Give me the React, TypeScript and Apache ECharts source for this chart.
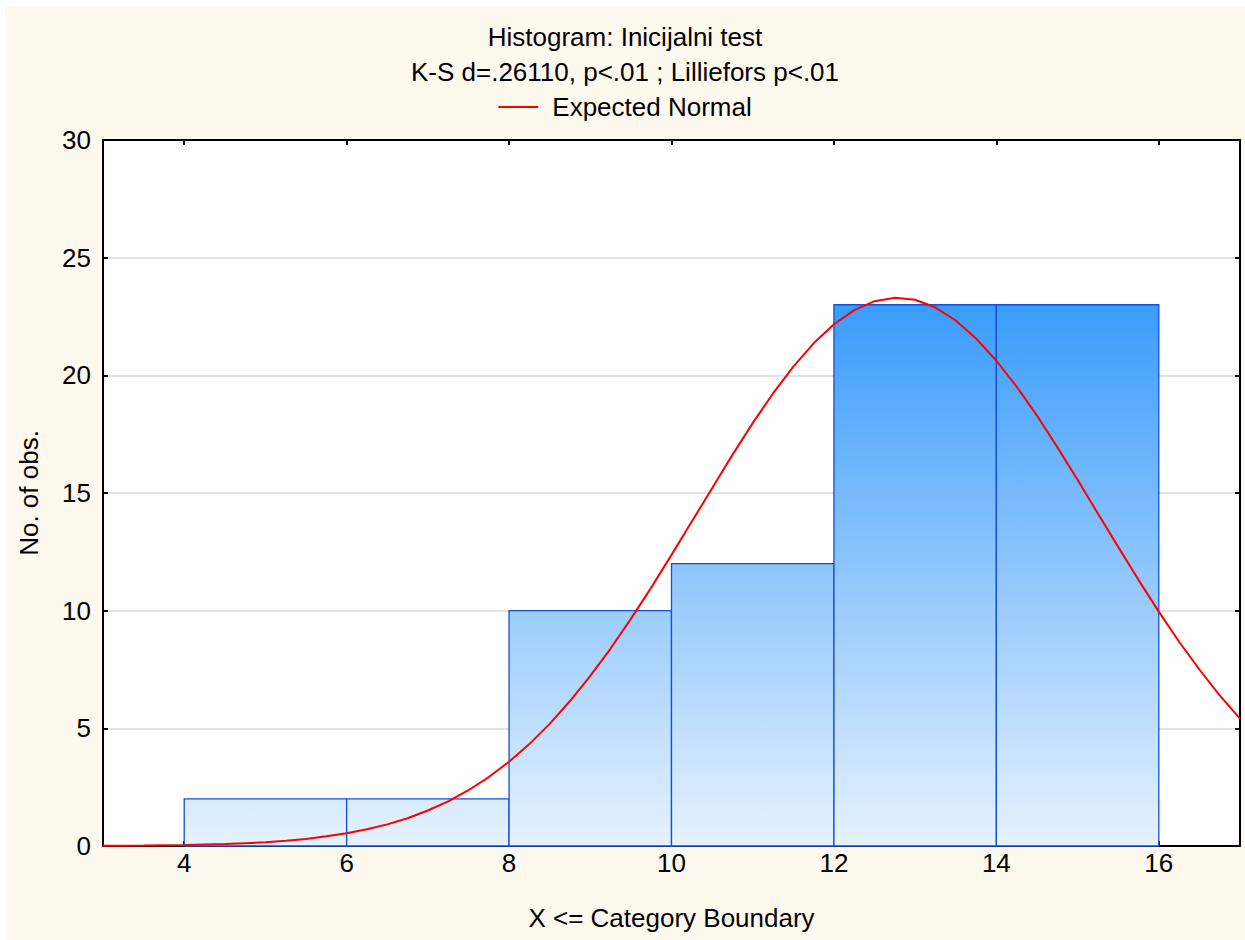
import React, { useEffect, useRef } from "react";
import * as echarts from "echarts";

const titleLines = ["Histogram: Inicijalni test", "K-S d=.26110, p<.01 ; Lilliefors p<.01"];
const legendLabel = "Expected Normal";
const xAxisTitle = "X <= Category Boundary";
const yAxisTitle = "No. of obs.";

// histogram bins: lower bound, upper bound, count
const binLower = [4, 6, 8, 10, 12, 14];
const binUpper = [6, 8, 10, 12, 14, 16];
const binCounts = [2, 2, 10, 12, 23, 23];

// expected normal curve
const curveX = [3, 3.25, 3.5, 3.75, 4, 4.25, 4.5, 4.75, 5, 5.25, 5.5, 5.75, 6, 6.25, 6.5, 6.75, 7, 7.25, 7.5, 7.75, 8, 8.25, 8.5, 8.75, 9, 9.25, 9.5, 9.75, 10, 10.25, 10.5, 10.75, 11, 11.25, 11.5, 11.75, 12, 12.25, 12.5, 12.75, 13, 13.25, 13.5, 13.75, 14, 14.25, 14.5, 14.75, 15, 15.25, 15.5, 15.75, 16, 16.25, 16.5, 16.75, 17];
const curveY = [0.01, 0.014, 0.02, 0.03, 0.04, 0.06, 0.08, 0.12, 0.16, 0.22, 0.3, 0.41, 0.54, 0.71, 0.92, 1.18, 1.51, 1.9, 2.37, 2.93, 3.58, 4.33, 5.19, 6.16, 7.23, 8.39, 9.65, 10.98, 12.37, 13.79, 15.2, 16.62, 17.97, 19.23, 20.37, 21.36, 22.17, 22.77, 23.15, 23.3, 23.21, 22.88, 22.33, 21.57, 20.62, 19.52, 18.29, 16.95, 15.56, 14.13, 12.71, 11.31, 9.96, 8.68, 7.5, 6.4, 5.41];

const xTicks = [4, 6, 8, 10, 12, 14, 16];

export default function App() {
  const ref = useRef<HTMLDivElement>(null);
  useEffect(() => {
    document.body.style.margin = "0";
    const chart = echarts.init(ref.current!, null, { renderer: "svg" });
    const font = "Liberation Sans, Arial, sans-serif";
    const fs = 26;
    const axisCommon = {
      axisLine: { show: true, onZero: false, lineStyle: { color: "#000", width: 2 } },
      axisTick: { show: true, inside: true, length: 5, lineStyle: { color: "#000", width: 2 } },
    };
    chart.setOption({
      animation: false,
      backgroundColor: "#fdf9ef",
      textStyle: { fontFamily: font },
      title: [
        { text: titleLines[0], left: "center", top: 18, padding: 0, textStyle: { fontSize: fs, fontWeight: "normal", color: "#000", fontFamily: font } },
        { text: titleLines[1], left: "center", top: 53, padding: 0, textStyle: { fontSize: fs, fontWeight: "normal", color: "#000", fontFamily: font } },
      ],
      legend: {
        data: [legendLabel],
        left: "center",
        top: 88,
        padding: 0,
        icon: "rect",
        itemWidth: 40,
        itemHeight: 2,
        itemGap: 10,
        textStyle: { fontSize: fs, color: "#000", fontFamily: font, padding: [0, 0, 0, 9] },
      },
      grid: { left: 98, right: 5, top: 134, bottom: 94, containLabel: false, show: true, backgroundColor: "#fff", borderWidth: 0 },
      xAxis: [
        {
          type: "value", min: 3, max: 17, position: "bottom",
          name: xAxisTitle, nameLocation: "middle", nameGap: 59,
          nameTextStyle: { fontSize: fs, color: "#000", fontFamily: font },
          ...axisCommon,
          axisTick: { ...axisCommon.axisTick, customValues: xTicks },
          axisLabel: { customValues: xTicks, fontSize: fs, color: "#000", margin: 4, fontFamily: font },
          splitLine: { show: false },
        },
        {
          type: "value", min: 3, max: 17, position: "top",
          ...axisCommon,
          axisTick: { ...axisCommon.axisTick, customValues: xTicks },
          axisLabel: { show: false },
          splitLine: { show: false },
        },
      ],
      yAxis: [
        {
          type: "value", min: 0, max: 30, interval: 5, position: "left",
          name: yAxisTitle, nameLocation: "middle", nameGap: 61,
          nameTextStyle: { fontSize: fs, color: "#000", fontFamily: font },
          ...axisCommon,
          axisLabel: { fontSize: fs, color: "#000", margin: 12, fontFamily: font },
          splitLine: { show: true, lineStyle: { color: "#d8d8d8", width: 1.5 } },
        },
        {
          type: "value", min: 0, max: 30, interval: 5, position: "right",
          ...axisCommon,
          axisLabel: { show: false },
          splitLine: { show: false },
        },
      ],
      series: [
        {
          type: "custom",
          name: "bars",
          xAxisIndex: 0,
          yAxisIndex: 0,
          encode: { x: [0, 1], y: 2 },
          data: binLower.map((lo, i) => [lo, binUpper[i], binCounts[i]]),
          z: 2,
          renderItem: (params: any, api: any) => {
            const a = api.coord([api.value(0), api.value(2)]);
            const b = api.coord([api.value(1), 0]);
            const gTop = api.coord([3, 23])[1];
            const gBot = api.coord([3, 0])[1];
            return {
              type: "rect",
              shape: { x: a[0], y: a[1], width: b[0] - a[0], height: b[1] - a[1] },
              style: {
                fill: {
                  type: "linear", x: 0, y: gTop, x2: 0, y2: gBot, global: true,
                  colorStops: [
                    { offset: 0, color: "#3a9cfb" },
                    { offset: 1, color: "#e6f2fe" },
                  ],
                },
                stroke: "#1450d0",
                lineWidth: 1.3,
              },
            };
          },
        },
        {
          type: "line",
          name: legendLabel,
          data: curveX.map((x, i) => [x, curveY[i]]),
          smooth: false,
          showSymbol: false,
          symbol: "none",
          clip: true,
          z: 5,
          lineStyle: { color: "#ff0000", width: 2 },
          itemStyle: { color: "#ff0000" },
        },
      ],
    });
    return () => chart.dispose();
  }, []);
  return (
    <div
      ref={ref}
      style={{ position: "absolute", left: 5, top: 6, width: 1240, height: 934 }}
    />
  );
}
